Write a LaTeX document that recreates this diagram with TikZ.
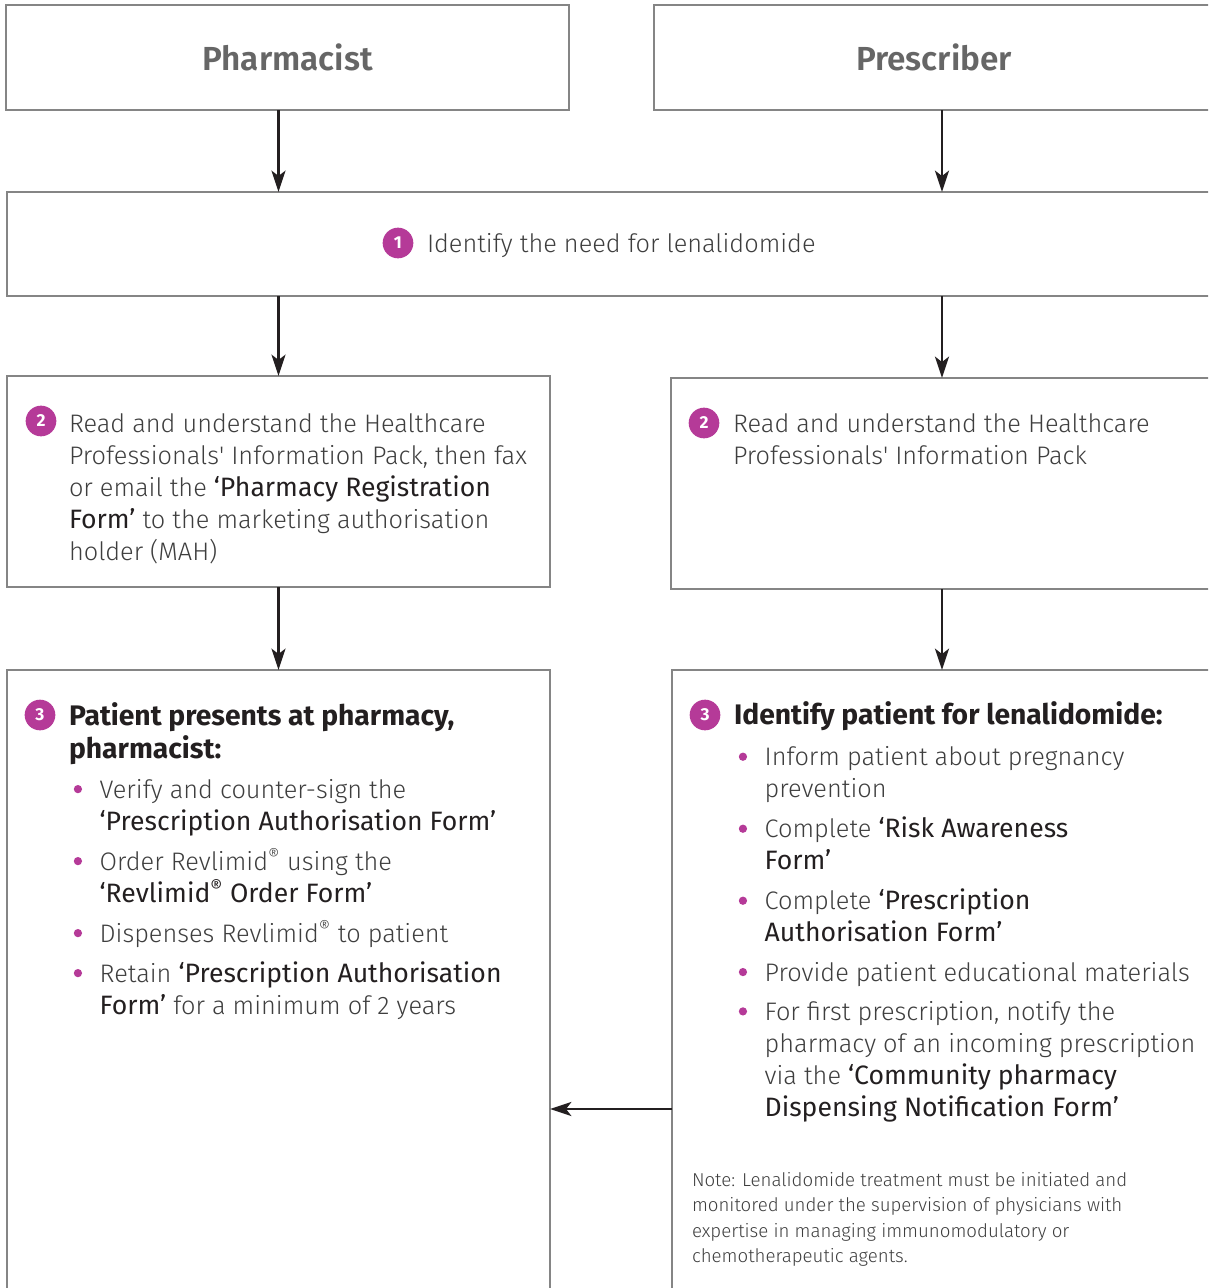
\documentclass[tikz,border=0pt]{standalone}
\usepackage{fontspec}
\setmainfont{Fira Sans Light}[BoldFont={Fira Sans Bold}]
\newfontfamily\formfont{Fira Sans}[Scale=1.05]
\newfontfamily\rolefont{Fira Sans SemiBold}
\usetikzlibrary{arrows.meta}

\definecolor{rxmagenta}{RGB}{181, 58, 152}
\definecolor{framegray}{RGB}{133, 133, 133}
\definecolor{bodytext}{RGB}{62, 62, 62}
\definecolor{darktext}{RGB}{35, 31, 32}
\definecolor{headgray}{RGB}{102, 102, 102}

\newcommand{\form}[1]{{\formfont\color{darktext}#1}}
\newcommand{\rxreg}{\textsuperscript{®}}
\newcommand{\rxdot}{\hspace*{3.6pt}\tikz[baseline=0pt]\fill[rxmagenta] (0pt, 6.7pt) circle (3.1pt);}
\newcommand{\rxhead}[1]{\multicolumn{2}{@{}l@{}}{\bfseries\fontsize{21.2}{24}\selectfont\color{darktext}#1}}

\begin{document}
\begin{tikzpicture}[
    x=0.75pt, y=-0.75pt,
    every node/.style={inner sep=0pt, outer sep=0pt},
    frame/.style 2 args={
        rectangle,
        draw=framegray,
        line width=1pt,
        anchor=north west,
        minimum width=#1*0.75pt,
        minimum height=#2*0.75pt
    },
    role/.style={font=\rolefont\fontsize{25}{28}\selectfont, text=headgray},
    num/.style={circle, fill=rxmagenta, text=white, minimum size=23pt,
        font=\bfseries\fontsize{13}{13}\selectfont},
    txt/.style={anchor=north west, align=left, text=bodytext,
        font=\fontsize{19}{24}\selectfont, execute at begin node=\strut},
    note/.style={txt, font=\fontsize{14}{19.1}\selectfont},
    arr/.style={draw=darktext, line width=2pt,
        -{Stealth[length=16pt, width=10.5pt, inset=4pt]}}
]

\useasboundingbox (0, 0) rectangle (1208, 1288);
\clip (0, 0) rectangle (1208, 1288);

% who does what
\node[frame={563}{105}, role] (pharm) at (6, 5) {Pharmacist};
\node[frame={560}{105}, role] (presc) at (654, 5) {Prescriber};

% step 1
\node[frame={1206}{104}] (need) at (7, 192) {};
\node[num] (n1) at (398, 243) {1};
\node[txt] (needtxt) at (427, 229.6) {Identify the need for lenalidomide};

% step 2
\node[frame={543}{211}] (reg1) at (7, 376) {};
\node[num] (n2a) at (41, 421) {2};
\node[txt] (reg1txt) at (69, 413.6) {Read and understand the Healthcare\\
    Professionals\textquotesingle{} Information Pack, then fax\\
    or email the \form{‘Pharmacy Registration}\\
    \form{Form’} to the marketing authorisation\\
    holder (MAH)};

\node[frame={542}{211}] (reg2) at (671, 378) {};
\node[num] (n2b) at (704, 423) {2};
\node[txt] (reg2txt) at (733, 413.6) {Read and understand the Healthcare\\
    Professionals\textquotesingle{} Information Pack};

% step 3
\node[frame={543}{650}] (pat1) at (7, 670) {};
\node[num] (n3a) at (40, 715) {3};
\node[txt] (pat1txt) at (69, 702.6) {\begin{tabular}[t]{@{}p{23pt}@{}l@{}}
    \rxhead{Patient presents at pharmacy,}\\
    \rxhead{pharmacist:}\\[6pt]
    \rxdot & Verify and counter-sign the\\
           & \form{‘Prescription Authorisation Form’}\\[6pt]
    \rxdot & Order Revlimid\rxreg{} using the\\
           & \form{‘Revlimid\rxreg{} Order Form’}\\[6pt]
    \rxdot & Dispenses Revlimid\rxreg{} to patient\\[6pt]
    \rxdot & Retain \form{‘Prescription Authorisation}\\
           & \form{Form’} for a minimum of 2 years
\end{tabular}};

\node[frame={542}{650}] (pat2) at (672, 670) {};
\node[num] (n3b) at (705, 715) {3};
\node[txt] (pat2txt) at (734, 701.4) {\begin{tabular}[t]{@{}p{23pt}@{}l@{}}
    \rxhead{Identify patient for lenalidomide:}\\[7pt]
    \rxdot & Inform patient about pregnancy\\
           & prevention\\[6pt]
    \rxdot & Complete \form{‘Risk Awareness}\\
           & \form{Form’}\\[6pt]
    \rxdot & Complete \form{‘Prescription}\\
           & \form{Authorisation Form’}\\[5.5pt]
    \rxdot & Provide patient educational materials\\[5.5pt]
    \rxdot & For first prescription, notify the\\
           & pharmacy of an incoming prescription\\
           & via the \form{‘Community pharmacy}\\
           & \form{Dispensing Notification Form’}
\end{tabular}};
\node[note] (caveat) at (692, 1172.3) {Note: Lenalidomide treatment must be initiated and\\
    monitored under the supervision of physicians with\\
    expertise in managing immunomodulatory or\\
    chemotherapeutic agents.};

% flow
\draw[arr] (reg1 |- pharm.south) -- (reg1 |- need.north);
\draw[arr] (reg2 |- presc.south) -- (reg2 |- need.north);
\draw[arr] (reg1 |- need.south) -- (reg1.north);
\draw[arr] (reg2 |- need.south) -- (reg2.north);
\draw[arr] (reg1.south) -- (pat1.north);
\draw[arr] (reg2.south) -- (reg2.south |- pat2.north);
\coordinate (handover) at (0, 1109);
\draw[arr] (pat2.west |- handover) -- (pat1.east |- handover);

\end{tikzpicture}
\end{document}
